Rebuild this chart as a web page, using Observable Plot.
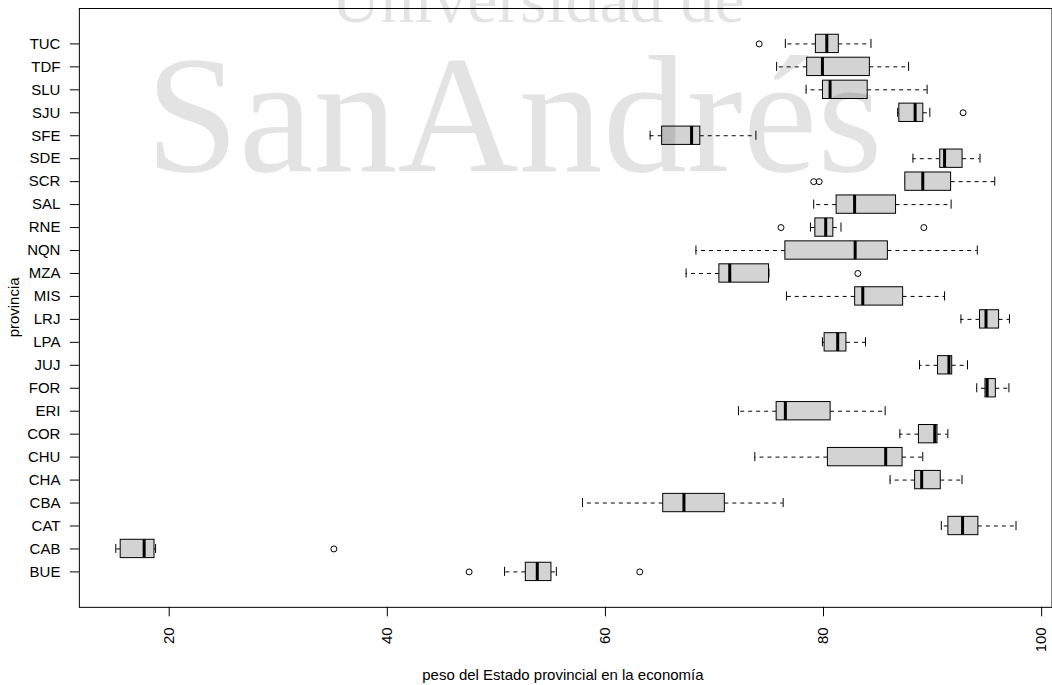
<!DOCTYPE html>
<html>
<head>
<meta charset="utf-8">
<script src="https://cdn.jsdelivr.net/npm/d3@7"></script>
<script src="https://cdn.jsdelivr.net/npm/@observablehq/plot@0.6"></script>
<style>
  html, body { margin: 0; padding: 0; background: #fff; overflow: hidden; }
  #wrap { position: relative; width: 1052px; height: 685px; overflow: hidden; }
  #chart svg { display: block; }
  #wm { position: absolute; left: 0; top: 0; pointer-events: none; }
</style>
</head>
<body>
<div id="wrap">
  <div id="chart"></div>
  <svg id="wm" width="1052" height="685"></svg>
</div>
<script>
// provinces (bottom to top in the chart)
const categories = ["BUE","CAB","CAT","CBA","CHA","CHU","COR","ERI","FOR","JUJ","LPA","LRJ","MIS","MZA","NQN","RNE","SAL","SCR","SDE","SFE","SJU","SLU","TDF","TUC"];
// five-number summaries
const whiskerLow = [50.75,15.1,90.8,57.9,86.1,73.7,87.0,72.2,94.05,88.8,79.9,92.6,76.6,67.4,68.3,78.8,79.1,87.5,88.2,64.1,86.8,78.4,75.7,76.5];
const q1 =         [52.7,15.55,91.45,65.3,88.4,80.4,88.75,75.7,94.85,90.5,80.1,94.35,82.9,70.45,76.5,79.25,81.2,87.5,90.7,65.2,86.95,79.95,78.5,79.3];
const median =     [53.75,17.7,92.75,67.2,89.0,85.7,90.2,76.5,95.0,91.5,81.3,94.9,83.6,71.4,82.9,80.2,82.85,89.1,91.1,67.9,88.4,80.6,79.9,80.3];
const q3 =         [55.05,18.65,94.2,70.95,90.75,87.25,90.45,80.65,95.8,91.8,82.1,96.1,87.3,75.0,85.9,80.9,86.65,91.7,92.75,68.7,89.15,84.05,84.25,81.4];
const whiskerHigh =[55.5,18.75,97.65,76.3,92.7,89.1,91.4,85.65,97.0,93.2,83.85,97.05,91.1,75.0,94.1,81.6,91.7,95.7,94.35,73.8,89.75,89.5,87.8,84.35];
// outliers
const outlierProv =  ["BUE","BUE","CAB","MZA","RNE","RNE","SCR","SCR","SJU","TUC"];
const outlierValue = [47.5,63.15,35.1,83.15,76.1,89.2,79.1,79.6,92.8,74.1];
// axis ticks and labels
const xTicks = [20,40,60,80,100];
const xLabel = "peso del Estado provincial en la economía";
const yLabel = "provincia";

const rows = categories.map((p, i) => ({
  prov: p, lo: whiskerLow[i], q1: q1[i], med: median[i], q3: q3[i], hi: whiskerHigh[i]
}));
const outliers = outlierProv.map((p, i) => ({prov: p, value: outlierValue[i]}));

const step = 600 / (categories.length + 1.92);
const boxInset = step * 0.1;
const stapleInset = step * 0.3;

const plot = Plot.plot({
  width: 1054,
  height: 685,
  marginLeft: 79,
  marginRight: 0.5,
  marginTop: 8,
  marginBottom: 77,
  style: {fontFamily: "'Liberation Sans', Arial, Helvetica, sans-serif", fontSize: "15px", background: "transparent"},
  x: {domain: [11.76, 100.95]},
  y: {type: "band", domain: categories.slice().reverse(), paddingInner: 0, paddingOuter: 0.96, align: 0.5},
  marks: [
    Plot.frame({stroke: "#000", strokeWidth: 1}),
    Plot.ruleY(rows, {y: "prov", x1: "q1", x2: "lo", stroke: "#000", strokeDasharray: "4,4", strokeWidth: 1}),
    Plot.ruleY(rows, {y: "prov", x1: "q3", x2: "hi", stroke: "#000", strokeDasharray: "4,4", strokeWidth: 1}),
    Plot.tickX(rows, {y: "prov", x: "lo", stroke: "#000", insetTop: stapleInset, insetBottom: stapleInset}),
    Plot.tickX(rows, {y: "prov", x: "hi", stroke: "#000", insetTop: stapleInset, insetBottom: stapleInset}),
    Plot.barX(rows, {y: "prov", x1: "q1", x2: "q3", fill: "#d3d3d3", stroke: "#000", strokeWidth: 1, insetTop: boxInset, insetBottom: boxInset}),
    Plot.tickX(rows, {y: "prov", x: "med", stroke: "#000", strokeWidth: 3, insetTop: boxInset, insetBottom: boxInset}),
    Plot.dot(outliers, {y: "prov", x: "value", r: 3, stroke: "#000", fill: "none", strokeWidth: 1}),
    Plot.axisY({tickSize: 9, tickPadding: 10, fontSize: 15, label: null, color: "#000"}),
    Plot.axisX({ticks: xTicks, tickSize: 9.5, tickPadding: 10.5, tickRotate: -90, fontSize: 15, label: null, color: "#000"})
  ]
});

document.getElementById("chart").appendChild(plot);

// axis titles
const svg = d3.select(plot);
svg.append("text")
  .attr("transform", "translate(14,308) rotate(-90)")
  .attr("text-anchor", "middle")
  .attr("dominant-baseline", "central")
  .attr("font-size", 15)
  .attr("fill", "#000")
  .text(yLabel);
svg.append("text")
  .attr("x", 564)
  .attr("y", 681)
  .attr("text-anchor", "middle")
  .attr("font-size", 15)
  .attr("fill", "#000")
  .text(xLabel);

// watermark overlay (drawn over the chart, translucent, as in the reference)
const wm = d3.select("#wm");
wm.append("text")
  .attr("x", 538).attr("y", 22)
  .attr("text-anchor", "middle")
  .attr("font-family", "'Liberation Serif', 'DejaVu Serif', serif")
  .attr("font-size", 68)
  .attr("fill", "#000").attr("fill-opacity", 0.11)
  .text("Universidad de");
wm.append("text")
  .attr("x", 514).attr("y", 171)
  .attr("text-anchor", "middle")
  .attr("font-family", "'Liberation Serif', 'DejaVu Serif', serif")
  .attr("font-size", 168)
  .attr("fill", "#000").attr("fill-opacity", 0.11)
  .text("SanAndrés");
</script>
</body>
</html>
